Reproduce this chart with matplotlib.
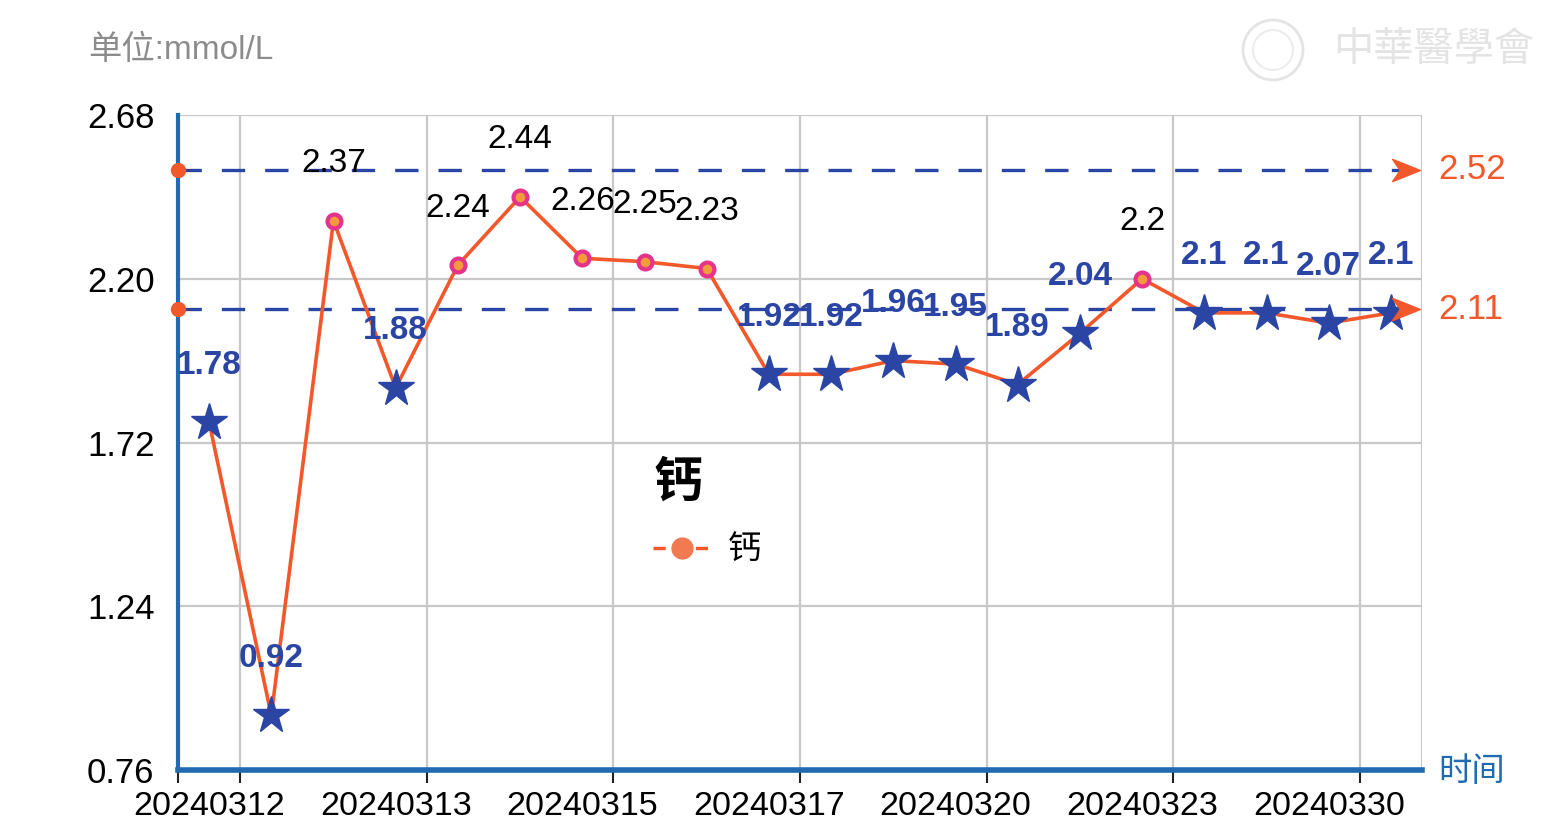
import numpy as np
import matplotlib
matplotlib.use('Agg')
from matplotlib import pyplot as plt
from matplotlib.lines import Line2D
from matplotlib.path import Path
from matplotlib.patches import Circle
from matplotlib.transforms import IdentityTransform

plt.rcParams['font.family'] = ['Liberation Sans', 'Noto Sans CJK SC', 'DejaVu Sans']

# data
values = [1.78, 0.92, 2.37, 1.88, 2.24, 2.44, 2.26, 2.25, 2.23, 1.92,
          1.92, 1.96, 1.95, 1.89, 2.04, 2.2, 2.1, 2.1, 2.07, 2.1]
date_labels = ['20240312', '20240313', '20240315', '20240317',
               '20240320', '20240323', '20240330']
label_step = 3
y_ticks = [0.76, 1.24, 1.72, 2.20, 2.68]
low_limit = 2.11
high_limit = 2.52

orange = '#F2582A'
navy = '#2A45A3'
axis_blue = '#1F6AB0'
pink = '#E5338C'

W, H = 1563, 832
fig = plt.figure(figsize=(W / 100, H / 100), dpi=100)
ax = fig.add_axes([178 / W, 1 - 770 / H, (1422 - 178) / W, (770 - 115) / H])

n = len(values)
x = np.arange(n)
ax.set_xlim(-0.5, n - 0.5)
ax.set_ylim(y_ticks[0], y_ticks[-1])

# grid
for yv in y_ticks[1:]:
    ax.axhline(yv, color='#C8C8C8', lw=1.6, zorder=0)
grid_x = np.arange(0.5, n - 0.5, label_step)
for gx in grid_x:
    ax.axvline(gx, color='#C8C8C8', lw=1.6, zorder=0)
ax.axvline(n - 0.5, color='#C8C8C8', lw=1.6, zorder=0)

for s in ['top', 'right']:
    ax.spines[s].set_visible(False)
ax.spines['left'].set_color(axis_blue)
ax.spines['left'].set_linewidth(3)
ax.spines['bottom'].set_color(axis_blue)
ax.spines['bottom'].set_linewidth(4)

ax.set_yticks(y_ticks)
ax.set_yticklabels(['%.2f' % v for v in y_ticks])
ax.tick_params(axis='y', length=0, pad=17, labelsize=25)

ax.set_xticks(np.concatenate([[-0.5], grid_x]))
ax.set_xticklabels([])
ax.set_xticks(np.arange(0, n, label_step), minor=True)
ax.set_xticklabels(date_labels, minor=True)
ax.tick_params(axis='x', which='major', length=9, width=1.5, color='#222222')
ax.tick_params(axis='x', which='minor', length=0, pad=15, labelsize=24.5)

# reference lines
arrow = Path([(-1, 0.8), (1, 0), (-1, -0.8), (-0.45, 0), (-1, 0.8)],
             [Path.MOVETO, Path.LINETO, Path.LINETO, Path.LINETO, Path.CLOSEPOLY])
for lim in [high_limit, low_limit]:
    ax.plot([-0.5, n - 0.5], [lim, lim], color=navy, lw=2.4,
            dashes=(7, 6), zorder=2)
    ax.plot([-0.5], [lim], 'o', color=orange, ms=10, clip_on=False, zorder=5)
    ax.plot([n - 0.75], [lim], marker=arrow, color=orange, ms=20,
            clip_on=False, zorder=5)
    ax.annotate('%.2f' % lim, (n - 0.5, lim), xytext=(12, 0),
                textcoords='offset points', va='center', ha='left',
                color=orange, fontsize=25, annotation_clip=False)

# series
ax.plot(x, values, color=orange, lw=2.6, zorder=3)
for xi, v in zip(x, values):
    if v < low_limit:
        ax.plot(xi, v, marker='*', color=navy, ms=28, mec=navy, zorder=4)
        col, wt = navy, 'bold'
    else:
        ax.plot(xi, v, marker='o', ms=10, mfc='#F39A3A', mec=pink,
                mew=3, zorder=4)
        col, wt = 'black', 'normal'
    ax.annotate('%g' % v, (xi, v), xytext=(0, 41), textcoords='offset points',
                ha='center', va='center', color=col, fontsize=24,
                fontweight=wt, zorder=6)

# legend
fig.text(653 / W, 1 - 482 / H, '钙', fontsize=35, fontweight='bold',
         va='center', ha='left', family=['Noto Sans CJK SC'])
leg_handle = Line2D([], [], color=orange, ls='--', lw=2.5, marker='o',
                    ms=15, mfc='#F27A52', mec='#F27A52', dashes=(3.5, 2.6))
leg = ax.legend([leg_handle], ['钙'], loc='center left',
                bbox_to_anchor=(653 / W, 1 - 551 / H),
                bbox_transform=fig.transFigure, frameon=False,
                fontsize=24, handlelength=1.75, handletextpad=0.5,
                borderpad=0, borderaxespad=0)

# texts
fig.text(88 / W, 1 - 50 / H, '单位:mmol/L', color='#8C8C8C', fontsize=24,
         va='center', ha='left')
fig.text(1438 / W, 1 - 772 / H, '时间', color=axis_blue, fontsize=24,
         va='center', ha='left', family=['Noto Sans CJK SC'])
fig.text(1333 / W, 1 - 50 / H, '中華醫學會', color='#E4E4E4', fontsize=29,
         va='center', ha='left', family=['Noto Sans CJK TC'], style='italic')
fig.add_artist(Circle((1273, H - 50), 30, transform=IdentityTransform(),
                      fill=False, ec='#E4E4E4', lw=2))
fig.add_artist(Circle((1273, H - 50), 20, transform=IdentityTransform(),
                      fill=False, ec='#ECECEC', lw=1.5))

fig.savefig('out.png', dpi=100)
